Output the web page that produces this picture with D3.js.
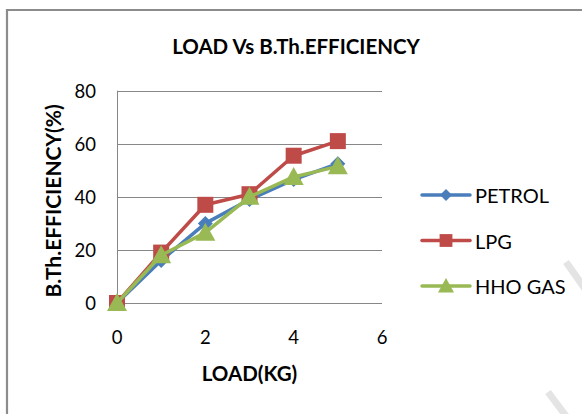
<!DOCTYPE html>
<html>
<head>
<meta charset="utf-8">
<script src="https://cdn.jsdelivr.net/npm/d3@7"></script>
<style>
  html, body { margin: 0; padding: 0; background: #fff; }
  svg { display: block; }
  text { font-family: Lato, "Open Sans", sans-serif; fill: #000; }
</style>
</head>
<body>
<svg id="chart" width="582" height="414"></svg>
<script>
// ---- data ----
const loads = [0, 1, 2, 3, 4, 5];
const petrol = [0, 16, 30, 39, 46.5, 52.5];
const lpg = [0, 19, 37, 41, 55.5, 61];
const hho = [0, 18, 26.5, 40, 47.5, 51.5];
const seriesNames = ["PETROL", "LPG", "HHO GAS"];
const xTicks = [0, 2, 4, 6];
const yTicks = [0, 20, 40, 60, 80];
const titleText = "LOAD Vs B.Th.EFFICIENCY";
const xTitle = "LOAD(KG)";
const yTitle = "B.Th.EFFICIENCY(%)";

const colors = ["#4A7EBB", "#BE4B48", "#98B954"];
const shapes = ["diamond", "square", "triangle"];

const svg = d3.select("#chart");

// faint watermark strokes at the right edge
svg.append("path")
  .attr("d", "M566,262 L590,296 M548,392 L572,424")
  .attr("fill", "none").attr("stroke", "#e4e4e4").attr("stroke-width", 7);

// chart border
svg.append("path")
  .attr("d", "M7,420 L7,10 L590,10")
  .attr("fill", "none").attr("stroke", "#8c8c8c").attr("stroke-width", 2.2);

const plot = { left: 117, right: 382, top: 90.7, bottom: 303 };
const x = d3.scaleLinear().domain([0, 6]).range([plot.left, plot.right]);
const y = d3.scaleLinear().domain([0, 80]).range([plot.bottom, plot.top]);

// gridlines
svg.append("g").selectAll("line").data(yTicks).join("line")
  .attr("x1", plot.left).attr("x2", plot.right)
  .attr("y1", d => Math.round(y(d)) + 0.5).attr("y2", d => Math.round(y(d)) + 0.5)
  .attr("stroke", "#878787").attr("stroke-width", 1);
// vertical axis line
svg.append("line")
  .attr("x1", plot.left + 0.5).attr("x2", plot.left + 0.5)
  .attr("y1", y(80)).attr("y2", y(0))
  .attr("stroke", "#878787").attr("stroke-width", 1);

// y tick labels
svg.append("g").selectAll("text").data(yTicks).join("text")
  .attr("x", 96).attr("y", d => y(d))
  .attr("text-anchor", "end").attr("dominant-baseline", "central")
  .attr("font-size", 18.5)
  .text(d => d);
// x tick labels
svg.append("g").selectAll("text").data(xTicks).join("text")
  .attr("x", d => x(d)).attr("y", 337)
  .attr("text-anchor", "middle").attr("dominant-baseline", "central")
  .attr("font-size", 18.5)
  .text(d => d);

// title
svg.append("text").attr("x", 296).attr("y", 46)
  .attr("text-anchor", "middle").attr("dominant-baseline", "central")
  .attr("font-size", 20.5).attr("font-weight", "bold")
  .text(titleText);
// x title
svg.append("text").attr("x", (plot.left + plot.right) / 2).attr("y", 373)
  .attr("text-anchor", "middle").attr("dominant-baseline", "central")
  .attr("font-size", 20.5).attr("font-weight", "bold")
  .text(xTitle);
// y title
svg.append("text")
  .attr("transform", `translate(52,${(plot.top + plot.bottom) / 2 + 4}) rotate(-90)`)
  .attr("text-anchor", "middle").attr("dominant-baseline", "central")
  .attr("font-size", 21).attr("font-weight", "bold")
  .text(yTitle);

function markerPath(shape) {
  if (shape === "square") return "M-8,-8H8V8H-8Z";
  if (shape === "diamond") return "M0,-7.5L7.5,0L0,7.5L-7.5,0Z";
  return "M0,-10L10,8L-10,8Z";
}

const data = [petrol, lpg, hho];
const line = d3.line().x((d, i) => x(loads[i])).y(d => y(d));

data.forEach((vals, s) => {
  const g = svg.append("g");
  g.append("path").datum(vals)
    .attr("d", line)
    .attr("fill", "none").attr("stroke", colors[s])
    .attr("stroke-width", 3.5).attr("stroke-linejoin", "round").attr("stroke-linecap", "round");
  g.selectAll("path.m").data(vals).join("path").attr("class", "m")
    .attr("transform", (d, i) => `translate(${x(loads[i])},${y(d)})`)
    .attr("d", markerPath(shapes[s]))
    .attr("fill", colors[s]);
});

// legend
const legendY = [195, 240.5, 286];
const lg = svg.append("g");
seriesNames.forEach((name, s) => {
  const gy = legendY[s];
  lg.append("line").attr("x1", 422).attr("x2", 470).attr("y1", gy).attr("y2", gy)
    .attr("stroke", colors[s]).attr("stroke-width", 3.5).attr("stroke-linecap", "round");
  lg.append("path").attr("transform", `translate(446,${gy}) scale(0.8)`)
    .attr("d", markerPath(shapes[s])).attr("fill", colors[s]);
  lg.append("text").attr("x", 475).attr("y", gy)
    .attr("dominant-baseline", "central").attr("font-size", 20)
    .attr("fill", "#1a1a1a")
    .text(name);
});
</script>
</body>
</html>
